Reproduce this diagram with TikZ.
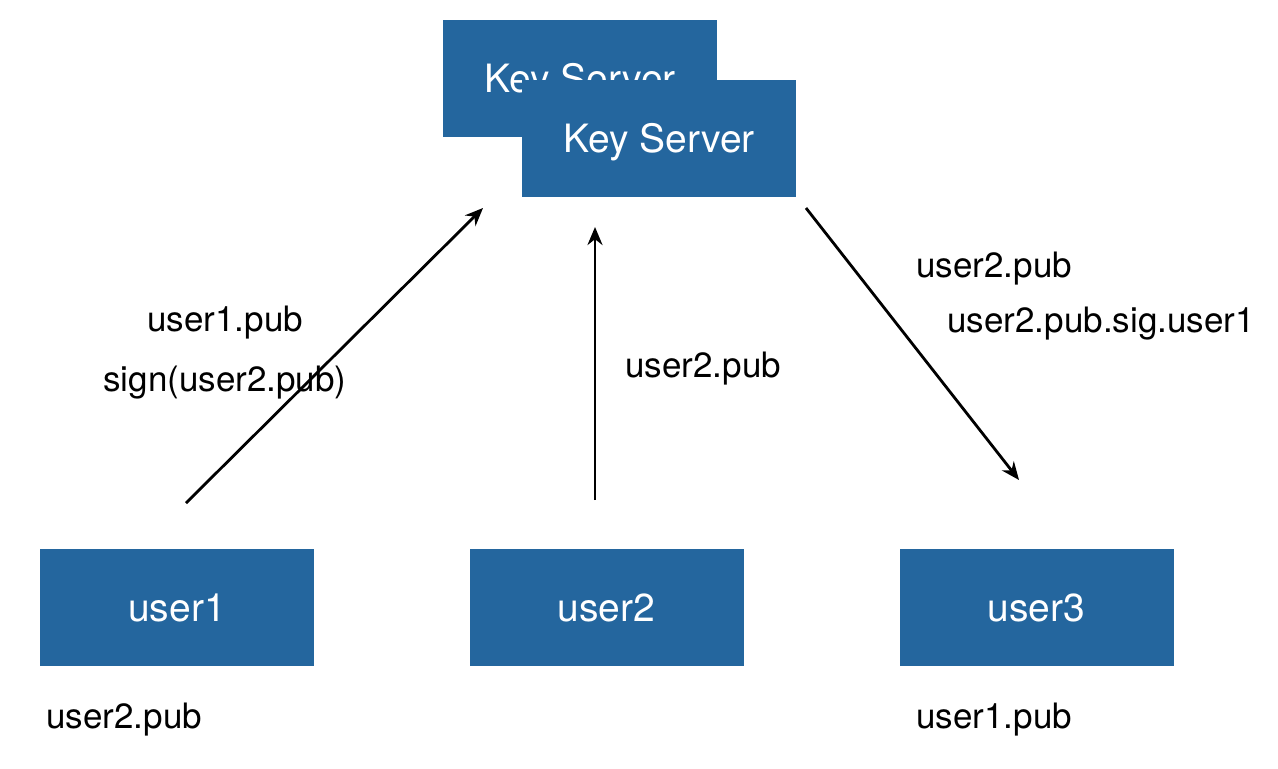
\documentclass[tikz,border=0pt]{standalone}
\usepackage{fontspec}
\setmainfont{TeX Gyre Heros}
\usetikzlibrary{arrows.meta}
\definecolor{keyblue}{RGB}{36,102,158}
\tikzset{
  bluebox/.style={fill=keyblue, text=white, minimum width=137pt, minimum height=58.5pt, inner sep=0pt, text height=14pt, text depth=0pt, font=\fontsize{19.5}{23}\selectfont},
  msg/.style={anchor=base west, inner sep=0pt, font=\fontsize{17.5}{21}\selectfont},
  flow/.style={line width=1.4pt, -{Stealth[length=9pt, width=7.5pt]}}
}
\begin{document}
\begin{tikzpicture}[x=0.5pt, y=-0.5pt]
% Canvas
\useasboundingbox (0,0) rectangle (1278,768);

% Key servers, the back one first
\node[bluebox] (serverback) at (580,78.5) {Key Server};
\node[bluebox] (server) at (659,138.5) {Key Server};

% Users
\node[bluebox] (user1) at (177,607.5) {user1};
\node[bluebox] (user2) at (606.5,607.5) {user2};
\node[bluebox] (user3) at (1036.5,607.5) {user3};

% Arrow ends
\coordinate (up1from) at (186,503);
\coordinate (up1to) at (483,208);
\coordinate (up2from) at (595,500);
\coordinate (up2to) at (595,227);
\coordinate (down3from) at (806,208);
\coordinate (down3to) at (1019,480);

\draw[flow] (up1from) -- (up1to);
\draw[flow] (up2from) -- (up2to);
\draw[flow] (down3from) -- (down3to);

% Messages
\node[msg] (msgpub1) at (147,331) {user1.pub};
\node[msg] (msgsign) at (103,391) {sign(user2.pub)};
\node[msg] (msgpub2) at (625,377) {user2.pub};
\node[msg] (msgget) at (916,277) {user2.pub};
\node[msg] (msgsig) at (947,332) {user2.pub.sig.user1};

% What each user holds
\node[msg] (keep1) at (46,728) {user2.pub};
\node[msg] (keep3) at (916,728) {user1.pub};
\end{tikzpicture}
\end{document}
